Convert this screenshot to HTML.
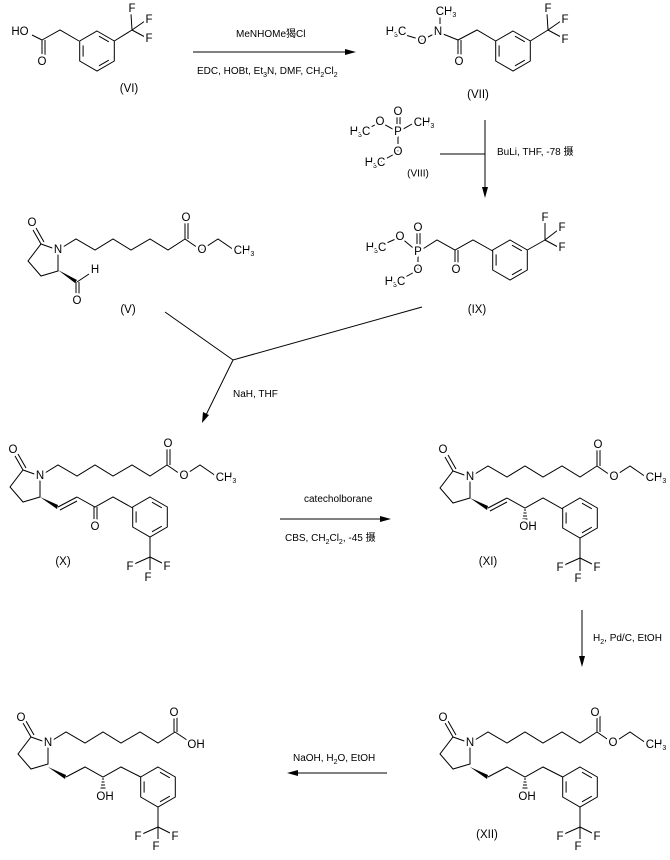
<!DOCTYPE html>
<html><head><meta charset="utf-8"><style>
html,body{margin:0;padding:0;background:#fff;}
svg{display:block;}
text{font-family:"Liberation Sans","Noto Sans CJK SC",sans-serif;font-size:11.5px;fill:#000;}
.a{stroke:#fff;stroke-width:5px;stroke-linejoin:round;paint-order:stroke;text-anchor:middle;dominant-baseline:central;}
.s{font-size:10px;}
line,polyline,polygon.b{stroke:#000;stroke-width:1;fill:none;}
</style></head><body>
<svg width="670" height="860" viewBox="0 0 670 860" xmlns="http://www.w3.org/2000/svg">
<defs>
<g id="benz">
<polygon class="b" points="0,-20 17.3,-10 17.3,10 0,20 -17.3,10 -17.3,-10"/>
<line x1="2" y1="-14.8" x2="11.8" y2="-9.2"/>
<line x1="11.8" y1="9.2" x2="2" y2="14.8"/>
<line x1="-13.9" y1="5.6" x2="-13.9" y2="-5.6"/>
</g>
<g id="lact">
<polyline points="0,0 -17,-6 -30,11 -17,26 0,21 0,0"/>
<line x1="-17" y1="-6" x2="-25" y2="-20"/>
<line x1="-14" y1="-8" x2="-22" y2="-22"/>
<polyline points="0,0 18,-11 37,0 55,-11 73,0 92,-11 110,0 127,-11"/>
</g>
<g id="ester">
<line x1="127" y1="-11" x2="127" y2="-27"/>
<line x1="130" y1="-11" x2="130" y2="-27"/>
<polyline points="127,-11 143,0 160,-11 176,0"/>
</g>
<g id="hash">
<line x1="54" y1="33" x2="56" y2="33"/><line x1="53.5" y1="36" x2="56.5" y2="36"/><line x1="53" y1="39" x2="57" y2="39"/><line x1="52.5" y1="42" x2="57.5" y2="42"/><line x1="52" y1="45" x2="58" y2="45"/>
</g>
<g id="cf3d">
<line x1="110" y1="62" x2="110" y2="82"/>
<line x1="110" y1="82" x2="92" y2="90"/><line x1="110" y1="82" x2="126" y2="90"/><line x1="110" y1="82" x2="110" y2="98"/>
</g>
</defs>

<!-- VI -->
<g>
<line x1="32" y1="35" x2="42" y2="40"/>
<line x1="42" y1="40" x2="42" y2="57"/><line x1="45" y1="40" x2="45" y2="57"/>
<polyline points="42,40 60,30 79,41"/>
<use href="#benz" x="97" y="51"/>
<line x1="114.3" y1="41" x2="132" y2="30"/>
<line x1="132" y1="30" x2="131" y2="14"/><line x1="132" y1="30" x2="145" y2="21"/><line x1="132" y1="30" x2="145" y2="37"/>
<text class="a" x="20" y="32">HO</text>
<text class="a" x="42" y="62">O</text>
<text class="a" x="132" y="9">F</text>
<text class="a" x="149" y="20">F</text>
<text class="a" x="149" y="39">F</text>
<text class="a" x="129" y="89">(VI)</text>
</g>

<!-- arrow 1 -->
<line x1="193" y1="52" x2="350" y2="52"/>
<polygon points="356,52 345,49 345,55" fill="#000"/>
<text x="236" y="37" class="s">MeNHOMe猲Cl</text>
<text x="197" y="74" class="s">EDC, HOBt, Et<tspan font-size="7" dy="3">3</tspan><tspan dy="-3">N, DMF, CH</tspan><tspan font-size="7" dy="3">2</tspan><tspan dy="-3">Cl</tspan><tspan font-size="7" dy="3">2</tspan></text>

<!-- VII -->
<g>
<line x1="402" y1="34" x2="422" y2="40"/>
<line x1="422" y1="40" x2="438" y2="32"/>
<line x1="440" y1="17" x2="440" y2="30"/>
<line x1="438" y1="32" x2="458" y2="40"/>
<line x1="458" y1="40" x2="458" y2="57"/><line x1="461" y1="40" x2="461" y2="57"/>
<polyline points="458,40 477,30 495.7,41"/>
<use href="#benz" x="513" y="51"/>
<line x1="530.3" y1="41" x2="548" y2="30"/>
<line x1="548" y1="30" x2="547" y2="14"/><line x1="548" y1="30" x2="561" y2="21"/><line x1="548" y1="30" x2="561" y2="37"/>
<text class="a" x="396" y="32">H<tspan font-size="7" dy="3">3</tspan><tspan dy="-3">C</tspan></text>
<text class="a" x="422" y="41">O</text>
<text class="a" x="438" y="32">N</text>
<text class="a" x="446" y="12">CH<tspan font-size="7" dy="3">3</tspan></text>
<text class="a" x="459" y="62">O</text>
<text class="a" x="548" y="9">F</text>
<text class="a" x="565" y="20">F</text>
<text class="a" x="565" y="40">F</text>
<text class="a" x="478" y="95">(VII)</text>
</g>

<!-- VIII -->
<g>
<line x1="364" y1="131" x2="380" y2="122"/><line x1="380" y1="122" x2="398" y2="132"/>
<line x1="397" y1="116" x2="397" y2="130"/><line x1="400" y1="116" x2="400" y2="130"/>
<line x1="398" y1="132" x2="412" y2="124"/>
<line x1="398" y1="132" x2="398" y2="152"/>
<line x1="398" y1="152" x2="380" y2="162"/>
<text class="a" x="360" y="132">H<tspan font-size="7" dy="3">3</tspan><tspan dy="-3">C</tspan></text>
<text class="a" x="380" y="122">O</text>
<text class="a" x="398" y="112">O</text>
<text class="a" x="398" y="132">P</text>
<text class="a" x="424" y="123">CH<tspan font-size="7" dy="3">3</tspan></text>
<text class="a" x="398" y="152">O</text>
<text class="a" x="375" y="163">H<tspan font-size="7" dy="3">3</tspan><tspan dy="-3">C</tspan></text>
<text class="a" x="418" y="174" style="font-size:10px">(VIII)</text>
</g>
<line x1="440" y1="154" x2="485" y2="154"/>
<line x1="485" y1="120" x2="485" y2="192"/>
<polygon points="485,198 482,187 488,187" fill="#000"/>
<text x="497" y="155" class="s">BuLi, THF, -78 摄</text>

<!-- IX -->
<g>
<line x1="380" y1="246" x2="400" y2="237"/><line x1="400" y1="237" x2="418" y2="252"/>
<line x1="417" y1="232" x2="417" y2="248"/><line x1="420" y1="232" x2="420" y2="248"/>
<line x1="418" y1="252" x2="418" y2="270"/><line x1="418" y1="270" x2="400" y2="280"/>
<polyline points="418,252 437,240 455,250 473,240 492.7,251"/>
<line x1="455" y1="250" x2="455" y2="266"/><line x1="458" y1="250" x2="458" y2="266"/>
<use href="#benz" x="510" y="260"/>
<line x1="527.3" y1="250" x2="545" y2="240"/>
<line x1="545" y1="240" x2="545" y2="223"/><line x1="545" y1="240" x2="558" y2="230"/><line x1="545" y1="240" x2="558" y2="247"/>
<text class="a" x="376" y="248">H<tspan font-size="7" dy="3">3</tspan><tspan dy="-3">C</tspan></text>
<text class="a" x="400" y="237">O</text>
<text class="a" x="418" y="228">O</text>
<text class="a" x="418" y="252">P</text>
<text class="a" x="418" y="270">O</text>
<text class="a" x="395" y="282">H<tspan font-size="7" dy="3">3</tspan><tspan dy="-3">C</tspan></text>
<text class="a" x="456" y="270">O</text>
<text class="a" x="545" y="218">F</text>
<text class="a" x="562" y="228">F</text>
<text class="a" x="562" y="248">F</text>
<text class="a" x="477" y="310">(IX)</text>
</g>

<!-- V -->
<g transform="translate(58,250)">
<use href="#lact"/><use href="#ester"/>
<polygon points="0,20 19,30 17,33" fill="#000"/>
<line x1="19" y1="32" x2="31" y2="24"/>
<line x1="18" y1="32" x2="18" y2="46"/><line x1="21" y1="32" x2="21" y2="46"/>
<text class="a" x="-26" y="-27">O</text>
<text class="a" x="0" y="0">N</text>
<text class="a" x="128" y="-32">O</text>
<text class="a" x="144" y="0">O</text>
<text class="a" x="186" y="1">CH<tspan font-size="7" dy="3">3</tspan></text>
<text class="a" x="37" y="20">H</text>
<text class="a" x="19" y="51">O</text>
<text class="a" x="70" y="60">(V)</text>
</g>

<!-- convergent -->
<polyline points="165,312 233,360 422,307"/>
<line x1="233" y1="360" x2="205" y2="417"/>
<polygon points="202,423 203,412 209,415" fill="#000"/>
<text x="233" y="397" class="s">NaH, THF</text>

<!-- X -->
<g transform="translate(40,476)">
<use href="#lact"/><use href="#ester"/>
<polygon points="0,21 18,29 17,33" fill="#000"/>
<line x1="18" y1="31" x2="37" y2="21"/><line x1="20" y1="34" x2="37" y2="25"/>
<polyline points="37,21 55,31 73,21 92.7,32"/>
<line x1="54" y1="31" x2="54" y2="47"/><line x1="57" y1="31" x2="57" y2="47"/>
<use href="#benz" x="110" y="41"/>
<use href="#cf3d" y="-1"/>
<text class="a" x="-27" y="-26">O</text>
<text class="a" x="0" y="0">N</text>
<text class="a" x="128" y="-32">O</text>
<text class="a" x="144" y="0">O</text>
<text class="a" x="186" y="2">CH<tspan font-size="7" dy="3">3</tspan></text>
<text class="a" x="55" y="51">O</text>
<text class="a" x="90" y="91">F</text>
<text class="a" x="127" y="91">F</text>
<text class="a" x="108" y="102">F</text>
<text class="a" x="23" y="86">(X)</text>
</g>

<!-- arrow X->XI -->
<line x1="280" y1="519" x2="385" y2="519"/>
<polygon points="391,519 380,516 380,522" fill="#000"/>
<text x="304" y="502" class="s">catecholborane</text>
<text x="285" y="541" class="s">CBS, CH<tspan font-size="7" dy="3">2</tspan><tspan dy="-3">Cl</tspan><tspan font-size="7" dy="3">2</tspan><tspan dy="-3">, -45 摄</tspan></text>

<!-- XI -->
<g transform="translate(470,477)">
<use href="#lact"/><use href="#ester"/>
<polygon points="0,21 18,29 17,33" fill="#000"/>
<line x1="18" y1="31" x2="37" y2="21"/><line x1="20" y1="34" x2="37" y2="25"/>
<polyline points="37,21 55,31 73,21 92.7,32"/>
<use href="#hash"/>
<use href="#benz" x="110" y="41"/>
<use href="#cf3d" y="-1"/>
<text class="a" x="-27" y="-27">O</text>
<text class="a" x="0" y="0">N</text>
<text class="a" x="128" y="-32">O</text>
<text class="a" x="144" y="0">O</text>
<text class="a" x="186" y="1">CH<tspan font-size="7" dy="3">3</tspan></text>
<text class="a" x="58" y="50">OH</text>
<text class="a" x="90" y="91">F</text>
<text class="a" x="127" y="91">F</text>
<text class="a" x="108" y="102">F</text>
<text class="a" x="18" y="85">(XI)</text>
</g>

<!-- arrow XI->XII -->
<line x1="582" y1="610" x2="582" y2="661"/>
<polygon points="582,667 579,656 585,656" fill="#000"/>
<text x="593" y="641" class="s">H<tspan font-size="7" dy="3">2</tspan><tspan dy="-3">, Pd/C, EtOH</tspan></text>

<!-- XII -->
<g transform="translate(470,743)">
<use href="#lact"/><use href="#ester"/>
<polygon points="0,24 18,32 17,36" fill="#000"/>
<polyline points="18,34 37,24 55,34 73,24 92.7,34"/>
<use href="#hash" y="3"/>
<use href="#benz" x="110" y="44"/>
<use href="#cf3d" y="2"/>
<text class="a" x="-27" y="-25">O</text>
<text class="a" x="0" y="0">N</text>
<text class="a" x="125" y="-30">O</text>
<text class="a" x="143" y="0">O</text>
<text class="a" x="186" y="2">CH<tspan font-size="7" dy="3">3</tspan></text>
<text class="a" x="57" y="54">OH</text>
<text class="a" x="90" y="94">F</text>
<text class="a" x="127" y="94">F</text>
<text class="a" x="108" y="104">F</text>
<text class="a" x="17" y="92">(XII)</text>
</g>

<!-- arrow XII->final -->
<line x1="293" y1="773" x2="387" y2="773"/>
<polygon points="287,773 298,770 298,776" fill="#000"/>
<text x="293" y="761" class="s">NaOH, H<tspan font-size="7" dy="3">2</tspan><tspan dy="-3">O, EtOH</tspan></text>

<!-- final acid -->
<g transform="translate(48,743)">
<use href="#lact"/>
<line x1="126" y1="-11" x2="126" y2="-27"/><line x1="129" y1="-11" x2="129" y2="-27"/>
<line x1="127" y1="-11" x2="142" y2="-1"/>
<polygon points="0,24 18,32 17,36" fill="#000"/>
<polyline points="18,34 37,24 55,34 73,24 92.7,34"/>
<use href="#hash" y="3"/>
<use href="#benz" x="110" y="44"/>
<use href="#cf3d" y="2"/>
<text class="a" x="-27" y="-25">O</text>
<text class="a" x="0" y="0">N</text>
<text class="a" x="126" y="-30">O</text>
<text class="a" x="148" y="2">OH</text>
<text class="a" x="57" y="54">OH</text>
<text class="a" x="90" y="94">F</text>
<text class="a" x="127" y="94">F</text>
<text class="a" x="108" y="104">F</text>
</g>
</svg>
</body></html>
